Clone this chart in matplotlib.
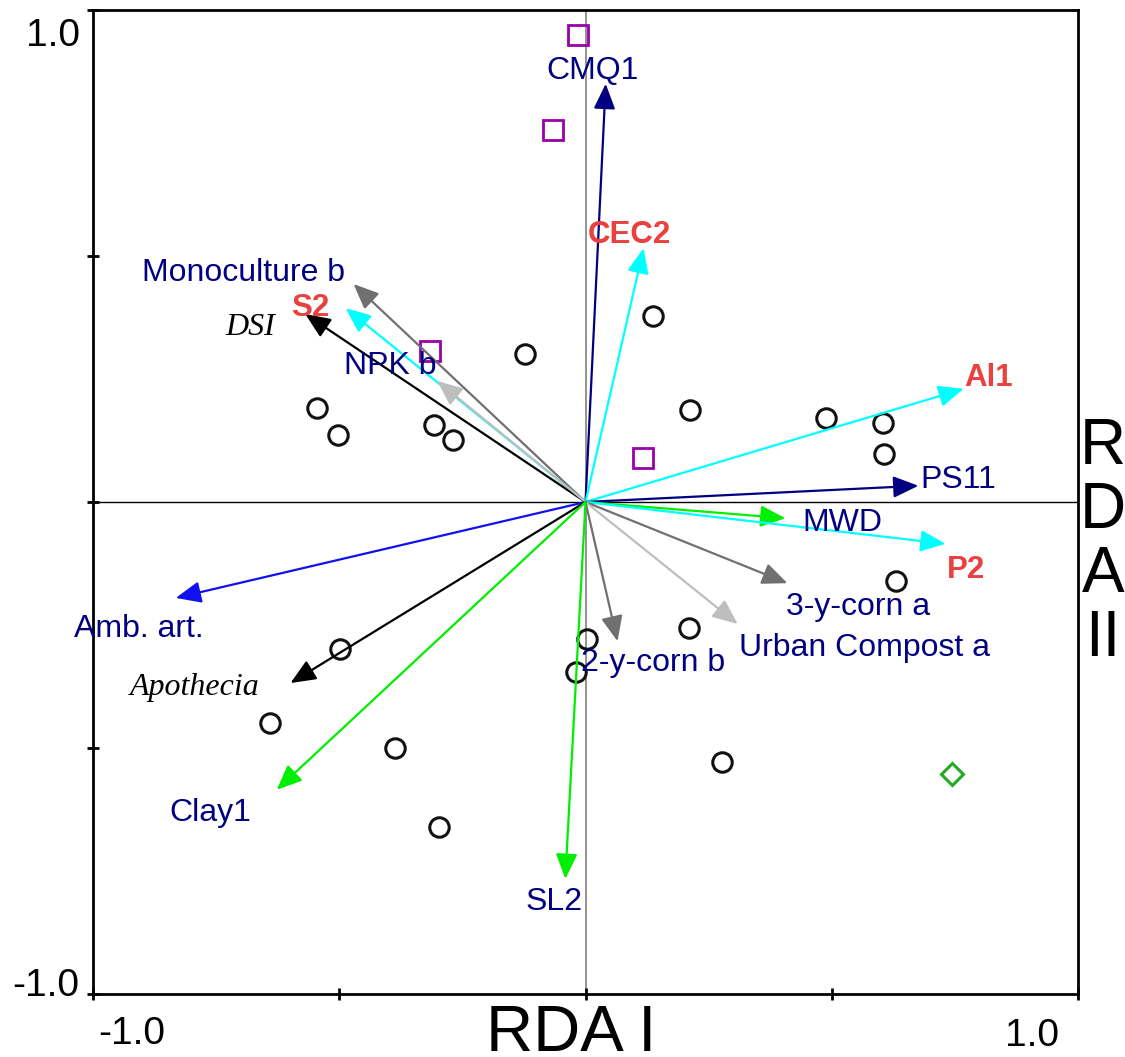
import matplotlib.pyplot as plt

# sample scores (open circles)
circle_x = [0.138, -0.122, -0.546, -0.502, -0.307, -0.270, 0.213, 0.489, 0.605, 0.607,
            0.631, 0.211, 0.004, -0.020, -0.499, -0.640, -0.386, 0.278, -0.298]
circle_y = [0.378, 0.301, 0.191, 0.136, 0.157, 0.126, 0.187, 0.171, 0.161, 0.098,
            -0.161, -0.256, -0.278, -0.346, -0.299, -0.449, -0.500, -0.528, -0.661]
# other sample groups
square_x = [-0.016, -0.065, -0.315, 0.116]
square_y = [0.949, 0.756, 0.307, 0.089]
diamond_x = [0.745]
diamond_y = [-0.553]

# variable arrows
arrow_names = ['CMQ1', 'CEC2', 'Monoculture b', 'S2', 'DSI', 'NPK b', 'Al1', 'PS11', 'MWD',
               'P2', '3-y-corn a', 'Urban Compost a', '2-y-corn b', 'Amb. art.',
               'Apothecia', 'Clay1', 'SL2']
arrow_x = [0.041, 0.118, -0.471, -0.487, -0.569, -0.301, 0.768, 0.676, 0.406,
           0.731, 0.410, 0.309, 0.065, -0.832, -0.599, -0.627, -0.041]
arrow_y = [0.850, 0.516, 0.443, 0.394, 0.382, 0.246, 0.230, 0.033, -0.033,
           -0.085, -0.165, -0.248, -0.283, -0.195, -0.368, -0.585, -0.766]

# where the names sit (centre x, baseline y)
label_x = [0.014, 0.089, -0.694, -0.558, -0.680, -0.396, 0.818, 0.757, 0.522,
           0.772, 0.554, 0.567, 0.138, -0.906, -0.794, -0.761, -0.063]
label_y = [0.860, 0.526, 0.449, 0.378, 0.339, 0.260, 0.236, 0.028, -0.059,
           -0.154, -0.230, -0.313, -0.343, -0.274, -0.392, -0.648, -0.829]

navy = '#000080'
cyan = '#00FFFF'
gray = '#707070'
lgray = '#BEBEBE'
green = '#00EE00'
blue = '#1010F0'
red = '#E8413E'
arrow_colors = [navy, cyan, gray, cyan, 'black', lgray, cyan, navy, green,
                cyan, gray, lgray, gray, blue, 'black', green, green]
label_kind = ['n', 'r', 'n', 'r', 'i', 'n', 'r', 'n', 'n',
              'r', 'n', 'n', 'n', 'n', 'i', 'n', 'n']

plt.rcParams['font.family'] = ['Liberation Sans', 'DejaVu Sans']

fig = plt.figure(figsize=(11.25, 10.57), dpi=100)
ax = fig.add_axes([93/1125, 1 - 994/1057, 985/1125, 984/1057])
ax.set_xlim(-1, 1)
ax.set_ylim(-1, 1)

ax.axvline(0, color='#808080', lw=1.2, zorder=1)
ax.axhline(0, color='black', lw=1.0, zorder=1)

ax.plot(circle_x, circle_y, 'o', ms=14, mfc='none', mec='#111111', mew=2.2, zorder=2)
ax.plot(square_x, square_y, 's', ms=14.5, mfc='none', mec='#9900AA', mew=2, zorder=2)
ax.plot(diamond_x, diamond_y, 'D', ms=11, mfc='none', mec='#22AA22', mew=2.2, zorder=2)

for x, y, c in zip(arrow_x, arrow_y, arrow_colors):
    ax.annotate('', xy=(x, y), xytext=(0, 0),
                arrowprops=dict(arrowstyle='-|>,head_length=0.7,head_width=0.3',
                                mutation_scale=22, color=c, lw=1.6,
                                shrinkA=0, shrinkB=0), zorder=3)

for name, x, y, k in zip(arrow_names, label_x, label_y, label_kind):
    if k == 'r':
        ax.text(x, y, name, color=red, fontsize=22.5, fontweight='bold',
                ha='center', va='baseline', zorder=4)
    elif k == 'i':
        ax.text(x, y, name, color='black', fontsize=23, fontstyle='italic',
                family='Liberation Serif', ha='center', va='baseline', zorder=4)
    else:
        ax.text(x, y, name, color=navy, fontsize=23, ha='center', va='baseline', zorder=4)

for s in ax.spines.values():
    s.set_linewidth(2)
ax.set_xticks([-1, -0.5, 0, 0.5, 1])
ax.set_yticks([-1, -0.5, 0, 0.5, 1])
ax.tick_params(direction='inout', length=8, width=2, labelbottom=False, labelleft=False)

# axis numbers
ax.text(-1.027, 0.927, '1.0', fontsize=28, ha='right', va='baseline', clip_on=False)
ax.text(-1.027, -1.004, '-1.0', fontsize=28, ha='right', va='baseline', clip_on=False)
ax.text(-0.922, -1.102, '-1.0', fontsize=28, ha='center', va='baseline', clip_on=False)
ax.text(0.906, -1.106, '1.0', fontsize=28, ha='center', va='baseline', clip_on=False)

fig.text(571/1125, 1 - 1051/1057, 'RDA I', fontsize=47, ha='center', va='baseline')
fig.text(1103/1125, 1 - 543/1057, 'R\nD\nA\nII', fontsize=46, ha='center', va='center',
         multialignment='center', linespacing=1.08)

fig.savefig('out.png', dpi=100)
